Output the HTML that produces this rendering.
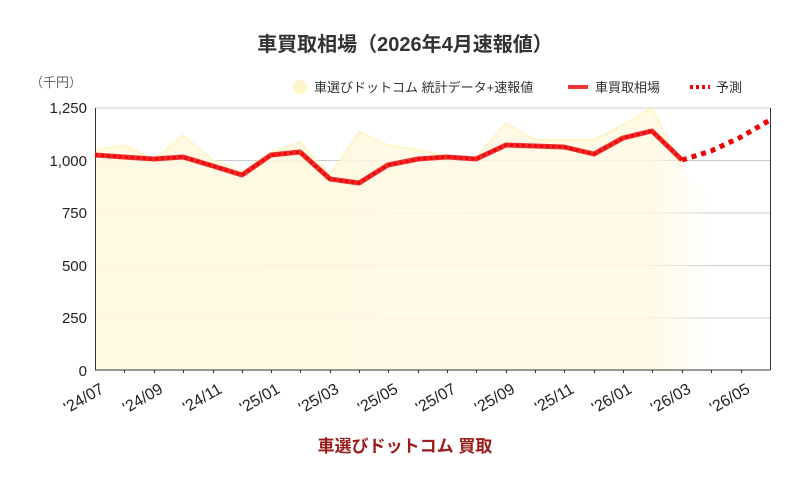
<!DOCTYPE html>
<html><head><meta charset="utf-8"><style>
body{margin:0;background:#fff;font-family:"Liberation Sans","Noto Sans CJK JP",sans-serif;}
</style></head><body>
<svg width="811" height="478" xmlns="http://www.w3.org/2000/svg" font-family="Liberation Sans, Noto Sans CJK JP, sans-serif">
<defs>
<linearGradient id="fade" x1="0" x2="1" y1="0" y2="0">
<stop offset="0" stop-color="#fff8e0" stop-opacity="0.9"/>
<stop offset="0.9" stop-color="#fff8e0" stop-opacity="0.8"/>
<stop offset="1" stop-color="#fff8e0" stop-opacity="0"/>
</linearGradient>
</defs>
<text x="405" y="51" text-anchor="middle" font-size="20" font-weight="bold" fill="#333">車買取相場（2026年4月速報値）</text>
<text x="30" y="87" font-size="13" fill="#666">（千円）</text>
<circle cx="300" cy="87" r="7" fill="#fff3c8"/>
<text x="314" y="92" font-size="13" fill="#333">車選びドットコム 統計データ+速報値</text>
<line x1="568" y1="87" x2="588" y2="87" stroke="#e33" stroke-width="4"/>
<text x="595" y="92" font-size="13" fill="#333">車買取相場</text>
<line x1="690" y1="87" x2="710" y2="87" stroke="#e00" stroke-width="4" stroke-dasharray="3,3"/>
<text x="716" y="92" font-size="13" fill="#333">予測</text>
<g stroke="#ccc" stroke-width="1">
<line x1="95" y1="108" x2="770" y2="108"/><line x1="95" y1="160.5" x2="770" y2="160.5"/>
<line x1="95" y1="213" x2="770" y2="213"/><line x1="95" y1="265.5" x2="770" y2="265.5"/>
<line x1="95" y1="318" x2="770" y2="318"/>
</g>
<polygon fill="url(#fade)" points="95,370 95,150 124,145 154,160 183,135 213,160 242,172 271,152 300,142 330,175 359,132 388,145 418,150 447,156 476,158 506,123 535,140 564,140 594,140 623,125 652,108 682,170 712,200 714,370"/>
<polyline fill="none" stroke="#fff0b0" stroke-width="2" opacity="0.6" points="95,150 124,145 154,160 183,135 213,160 242,172 271,152 300,142 330,175 359,132 388,145 418,150 447,156 476,158 506,123 535,140 564,140 594,140 623,125 652,108 682,170"/>
<line x1="95" y1="370" x2="770" y2="370" stroke="#333"/>
<line x1="95.5" y1="108" x2="95.5" y2="370" stroke="#333"/>
<line x1="770.5" y1="108" x2="770.5" y2="370" stroke="#333"/>
<g stroke="#333" stroke-width="1">
<line x1="124.5" y1="370" x2="124.5" y2="373"/><line x1="154.5" y1="370" x2="154.5" y2="373"/><line x1="183.5" y1="370" x2="183.5" y2="373"/><line x1="213.5" y1="370" x2="213.5" y2="373"/><line x1="242.5" y1="370" x2="242.5" y2="373"/><line x1="271.5" y1="370" x2="271.5" y2="373"/><line x1="300.5" y1="370" x2="300.5" y2="373"/><line x1="330.5" y1="370" x2="330.5" y2="373"/><line x1="359.5" y1="370" x2="359.5" y2="373"/><line x1="388.5" y1="370" x2="388.5" y2="373"/><line x1="418.5" y1="370" x2="418.5" y2="373"/><line x1="447.5" y1="370" x2="447.5" y2="373"/><line x1="476.5" y1="370" x2="476.5" y2="373"/><line x1="506.5" y1="370" x2="506.5" y2="373"/><line x1="535.5" y1="370" x2="535.5" y2="373"/><line x1="564.5" y1="370" x2="564.5" y2="373"/><line x1="594.5" y1="370" x2="594.5" y2="373"/><line x1="623.5" y1="370" x2="623.5" y2="373"/><line x1="652.5" y1="370" x2="652.5" y2="373"/><line x1="682.5" y1="370" x2="682.5" y2="373"/><line x1="711.5" y1="370" x2="711.5" y2="373"/><line x1="741.5" y1="370" x2="741.5" y2="373"/>
</g>
<polyline fill="none" stroke="#e83030" stroke-width="5" stroke-linejoin="round" points="95,155 124,157 154,159 183,157 213,166 242,175 271,155 300,152 330,179 359,183 388,165 418,159 447,157 476,159 506,145 535,146 564,147 594,154 623,138 652,131 682,160"/>
<polyline fill="none" stroke="#ff0000" stroke-width="3" stroke-dasharray="3,3" points="95,155 124,157 154,159 183,157 213,166 242,175 271,155 300,152 330,179 359,183 388,165 418,159 447,157 476,159 506,145 535,146 564,147 594,154 623,138 652,131 682,160"/>
<polyline fill="none" stroke="#e00" stroke-width="5" stroke-dasharray="5,5" points="682,160 711,151 741,137 770,120"/>
<g font-size="15" fill="#222" text-anchor="end">
<text x="87" y="113">1,250</text><text x="87" y="166">1,000</text><text x="87" y="218">750</text>
<text x="87" y="271">500</text><text x="87" y="323">250</text><text x="87" y="376">0</text>
</g>
<g font-size="16" fill="#222" text-anchor="end">
<text transform="translate(105,392) rotate(-30)">'24/07</text>
<text transform="translate(164,392) rotate(-30)">'24/09</text>
<text transform="translate(223,392) rotate(-30)">'24/11</text>
<text transform="translate(281,392) rotate(-30)">'25/01</text>
<text transform="translate(340,392) rotate(-30)">'25/03</text>
<text transform="translate(399,392) rotate(-30)">'25/05</text>
<text transform="translate(457,392) rotate(-30)">'25/07</text>
<text transform="translate(516,392) rotate(-30)">'25/09</text>
<text transform="translate(575,392) rotate(-30)">'25/11</text>
<text transform="translate(633,392) rotate(-30)">'26/01</text>
<text transform="translate(692,392) rotate(-30)">'26/03</text>
<text transform="translate(751,392) rotate(-30)">'26/05</text>
</g>
<text x="405" y="452" text-anchor="middle" font-size="17" font-weight="bold" fill="#9b1a1a">車選びドットコム 買取</text>
</svg>
</body></html>
